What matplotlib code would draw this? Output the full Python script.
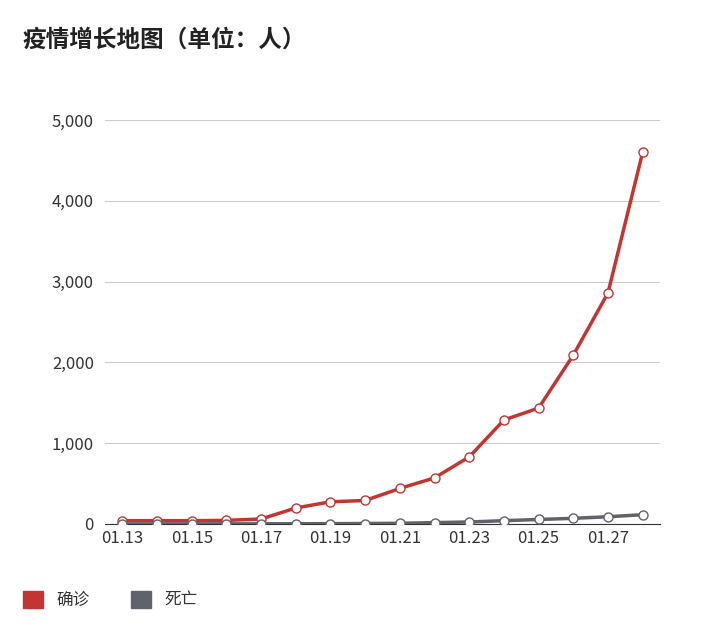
import matplotlib
matplotlib.use("Agg")
import matplotlib.pyplot as plt
from matplotlib.patches import Patch

plt.rcParams['font.family'] = ['Noto Sans CJK SC', 'DejaVu Sans']

dates = ["01.13","01.14","01.15","01.16","01.17","01.18","01.19","01.20",
         "01.21","01.22","01.23","01.24","01.25","01.26","01.27","01.28"]
confirmed = [41, 41, 41, 45, 62, 198, 275, 291, 440, 571, 830, 1287, 1435, 2090, 2860, 4600]
deaths = [1, 1, 1, 2, 2, 3, 4, 6, 9, 17, 25, 41, 56, 70, 90, 115]

red = "#c23531"
grey = "#61636b"

fig = plt.figure(figsize=(7.04, 6.26), dpi=100)
ax = fig.add_axes([105/704, 1-524/626, 555/704, (524-120)/626])
x = list(range(len(dates)))
for ys, c in [(confirmed, red), (deaths, grey)]:
    ax.plot(x, ys, color=c, lw=2.5, marker='o', ms=6.5, mfc='white', mec=c, mew=1, zorder=3)
ax.set_xlim(-0.5, len(dates) - 0.5)
ax.set_ylim(0, 5000)
ax.set_yticks(range(0, 5001, 1000))
ax.set_yticklabels([f"{v:,}" for v in range(0, 5001, 1000)], color="#333333", fontsize=12)
ax.set_xticks(x[::2])
ax.set_xticklabels(dates[::2], color="#333333", fontsize=12)
ax.grid(axis='y', color="#cccccc", lw=0.8)
ax.set_axisbelow(True)
for s in ['top', 'right', 'left']:
    ax.spines[s].set_visible(False)
ax.spines['bottom'].set_color("#333333")
ax.tick_params(axis='y', length=0, pad=8)
ax.tick_params(axis='x', length=0, pad=4)

fig.text(22/704, 1-40/626, "疫情增长地图（单位：人）", fontsize=17, fontweight='bold',
         color="#222222", va='center')
fig.legend(handles=[Patch(color=red, label="确诊"), Patch(color=grey, label="死亡")],
           loc='center left', bbox_to_anchor=(8/704, 1-600/626), ncol=2, frameon=False,
           fontsize=12, handlelength=1.2, handleheight=1.2, columnspacing=2.5,
           labelcolor="#333333")
fig.savefig("out.png", dpi=100)
